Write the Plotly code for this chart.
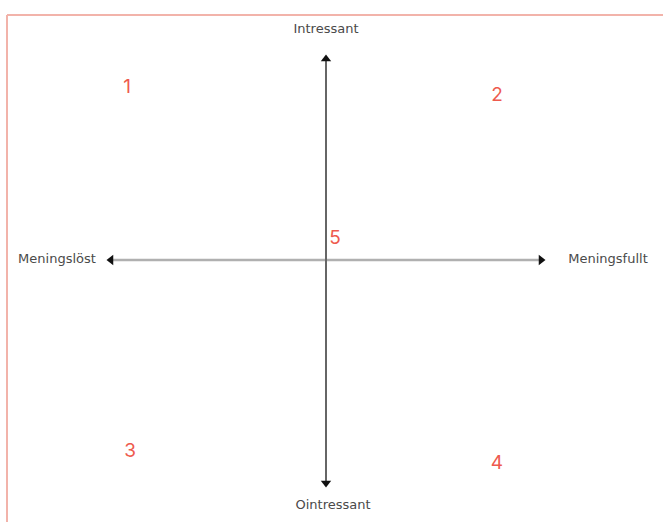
import plotly.graph_objects as go

# Quadrant markers
quad_labels = ["1", "2", "3", "4", "5"]
quad_x = [-1.99, 1.71, -1.96, 1.71, 0.09]
quad_y = [1.72, 1.64, -1.92, -2.04, 0.21]

# Axis end labels
axis_labels = ["Intressant", "Ointressant", "Meningslöst", "Meningsfullt"]
axis_label_x = [0.0, 0.07, -2.69, 2.82]
axis_label_y = [2.30, -2.46, 0.0, 0.0]

# Axis extents (arrowhead positions)
h_axis_x = [-2.15, 2.15]
v_axis_y = [-2.23, 2.01]

fig = go.Figure()

# horizontal axis line
fig.add_trace(go.Scatter(x=h_axis_x, y=[0, 0], mode="lines",
                         line=dict(color="#b0b0b0", width=2.5),
                         hoverinfo="skip", showlegend=False))
# vertical axis line
fig.add_trace(go.Scatter(x=[0, 0], y=v_axis_y, mode="lines",
                         line=dict(color="#666666", width=2),
                         hoverinfo="skip", showlegend=False))
# arrowheads
fig.add_trace(go.Scatter(
    x=[h_axis_x[0], h_axis_x[1], 0, 0],
    y=[0, 0, v_axis_y[0], v_axis_y[1]],
    mode="markers",
    marker=dict(symbol=["triangle-left", "triangle-right", "triangle-down", "triangle-up"],
                size=9, color="#111111"),
    hoverinfo="skip", showlegend=False))

fig.add_trace(go.Scatter(
    x=quad_x, y=quad_y, mode="text", text=quad_labels,
    textfont=dict(family="Inter, Roboto, sans-serif", size=19, color="#ee5a4e"),
    hoverinfo="skip", showlegend=False))

fig.add_trace(go.Scatter(
    x=axis_label_x, y=axis_label_y, mode="text", text=axis_labels,
    textfont=dict(family="DejaVu Sans, sans-serif", size=13, color="#4a4a4a"),
    hoverinfo="skip", showlegend=False))

# frame lines (top and left)
fig.add_shape(type="line", xref="paper", yref="paper", x0=7/663, x1=1.0,
              y0=1 - 15/522, y1=1 - 15/522, line=dict(color="#f2b3aa", width=2))
fig.add_shape(type="line", xref="paper", yref="paper", x0=7/663, x1=7/663,
              y0=0, y1=1 - 15/522, line=dict(color="#f2b3aa", width=2))

fig.update_xaxes(range=[-3.26, 3.37], visible=False, fixedrange=True)
fig.update_yaxes(range=[-2.62, 2.60], visible=False, fixedrange=True)
fig.update_layout(width=663, height=522, margin=dict(l=0, r=0, t=0, b=0),
                  plot_bgcolor="white", paper_bgcolor="white")

fig.write_html("out.html", config={"displayModeBar": False},
               post_script="document.body.style.margin='0';")
